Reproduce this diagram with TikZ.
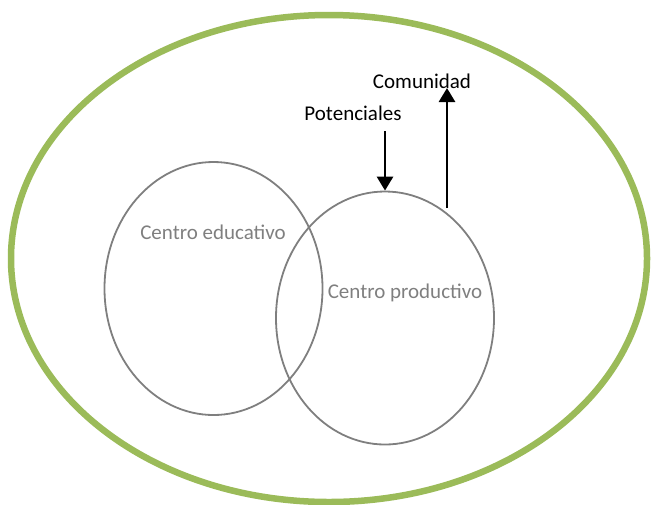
\documentclass[tikz,border=0pt]{standalone}
\usepackage{fontspec}
\setmainfont{Carlito}
\usetikzlibrary{shapes.geometric,positioning,arrows.meta}
\definecolor{olivegreen}{HTML}{9BBB59}
\definecolor{circlegray}{HTML}{7F7F7F}
\tikzset{centro/.style={ellipse,draw=circlegray,line width=1.8pt,minimum width=218pt,minimum height=253pt,inner sep=0pt},
         etiqueta/.style={text=circlegray,font=\fontsize{21}{25}\selectfont},
         texto/.style={font=\fontsize{21}{25}\selectfont},
         flecha/.style={line width=2.8pt,-{Triangle[length=14pt,width=16pt]}}}

\begin{document}
\begin{tikzpicture}[x=1pt,y=-1pt]
           \useasboundingbox (0,0) rectangle (652,504);
           \node[ellipse,draw=olivegreen,line width=6.5pt,minimum width=636pt,minimum height=487pt,inner sep=0pt] (comunidadE) at (329,258.5) {};
           \node[centro] (educativo) at (213.5,288.5) {};
           \node[centro] (productivo) at (385,318) {};
           \node[etiqueta] (edu_t) at (213,232) {Centro educativo};
           \node[etiqueta] (prod_t) at (405,293) {Centro productivo};
           \node[texto] (pot) at (353,113) {Potenciales};
           \node[texto] (com) at (422,81) {Comunidad};
           \coordinate (pot_c) at (385,131);
           \coordinate (com_c) at (447,208);
            \draw[flecha] (pot_c) -- (productivo.north);
            \draw[flecha] (com_c) -- (com_c |- 0,88);
        \end{tikzpicture}
\end{document}
